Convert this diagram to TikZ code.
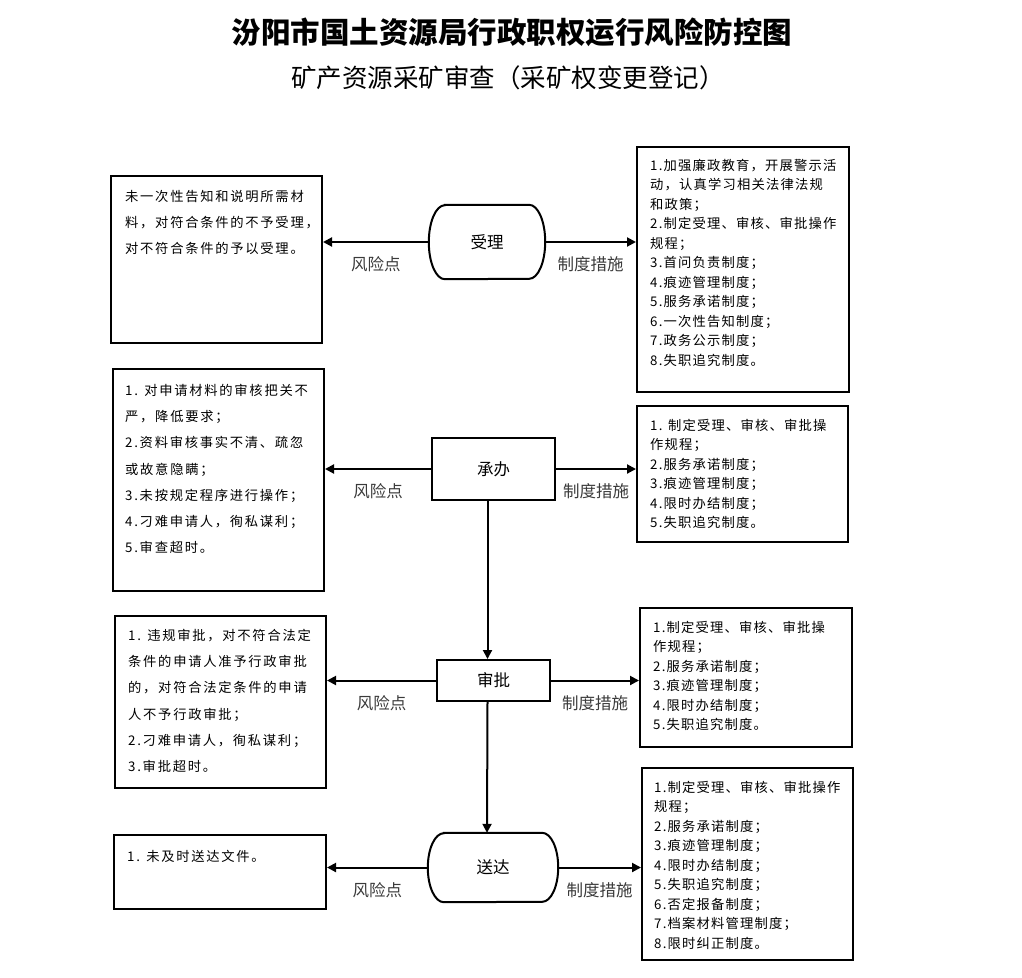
\documentclass[tikz,border=0pt]{standalone}
\usepackage{fontspec}
\usetikzlibrary{arrows.meta,positioning}
\newfontfamily\cjk{Noto Sans CJK SC}
\newfontfamily\cjkwide{Noto Sans CJK SC}[LetterSpace=13]
\newfontfamily\cjkmid{Noto Sans CJK SC}[LetterSpace=9]
\definecolor{inkline}{HTML}{000000}
\definecolor{lblgray}{HTML}{3A3A3A}
\tikzset{
  box/.style={rectangle, draw=inkline, line width=2pt, inner sep=0pt},
  stepbox/.style={box, font=\cjk\fontsize{16.5}{20}\selectfont},
  termbox/.style={rectangle, inner sep=0pt, font=\cjk\fontsize{16.5}{20}\selectfont},
  termline/.style={draw=inkline, line width=2pt},
  flow/.style={-{Triangle[length=9pt,width=9pt]}, draw=inkline, line width=2pt},
  risktxt/.style={font=\cjkwide\fontsize{13.3}{26.2}\selectfont, align=left, anchor=north west, inner sep=0pt},
  ruletxt/.style={font=\cjkmid\fontsize{13.3}{19.5}\selectfont, align=left, anchor=north west, inner sep=0pt},
  lbl/.style={font=\cjk\fontsize{16.5}{20}\selectfont, text=lblgray, inner sep=0pt},
  ttl/.style={font=\cjk\bfseries\fontsize{29.5}{34}\selectfont, inner sep=0pt},
  subttl/.style={font=\cjk\fontsize{25.5}{30}\selectfont, inner sep=0pt},
}
\begin{document}
\begin{tikzpicture}[x=1pt,y=-1pt]
  \useasboundingbox (0,0) rectangle (1022,977);
  \node[ttl] (title) at (512,32) {汾阳市国土资源局行政职权运行风险防控图};
  \node[subttl] (subtitle) at (508,78) {矿产资源采矿审查（采矿权变更登记）};
  % process steps
  \node[termbox, minimum width=116pt, minimum height=74pt] (sl) at (487,242) {受理};
  \node[stepbox, minimum width=123pt, minimum height=62pt] (cb) at (493.5,469) {承办};
  \node[stepbox, minimum width=113pt, minimum height=41pt] (sp) at (493.5,680.5) {审批};
  \node[termbox, minimum width=130pt, minimum height=69pt] (sd) at (493,867.5) {送达};
  \foreach \n/\r in {sl/37,sd/34.5}{
    \draw[termline] ([xshift=16pt]\n.north west) -- ([xshift=-16pt]\n.north east)
      arc[start angle=90, end angle=-90, x radius=16pt, y radius=\r pt]
      -- ([xshift=16pt]\n.south west)
      arc[start angle=270, end angle=90, x radius=16pt, y radius=\r pt] -- cycle;
  }
  % risk boxes
  \node[box, minimum width=211pt, minimum height=167pt] (rk1) at (216.5,259.5) {};
  \node[box, minimum width=211pt, minimum height=222pt] (rk2) at (218.5,480) {};
  \node[box, minimum width=211pt, minimum height=172pt] (rk3) at (220.5,702) {};
  \node[box, minimum width=212pt, minimum height=74pt] (rk4) at (220,872) {};
  \node[risktxt] (rk1t) at (125,190) {未一次性告知和说明所需材\\料，对符合条件的不予受理，\\对不符合条件的予以受理。};
  \node[risktxt] (rk2t) at (125,384) {1. 对申请材料的审核把关不\\严，降低要求；\\2.资料审核事实不清、疏忽\\或故意隐瞒；\\3.未按规定程序进行操作；\\4.刁难申请人，徇私谋利；\\5.审查超时。};
  \node[risktxt] (rk3t) at (128,629) {1. 违规审批，对不符合法定\\条件的申请人准予行政审批\\的，对符合法定条件的申请\\人不予行政审批；\\2.刁难申请人，徇私谋利；\\3.审批超时。};
  \node[risktxt] (rk4t) at (127,850) {1. 未及时送达文件。};
  % control boxes
  \node[box, minimum width=212pt, minimum height=245pt] (cs1) at (743,269.5) {};
  \node[box, minimum width=211pt, minimum height=136pt] (cs2) at (742.5,474) {};
  \node[box, minimum width=212pt, minimum height=139pt] (cs3) at (746,677.5) {};
  \node[box, minimum width=211pt, minimum height=192pt] (cs4) at (747.5,864) {};
  \node[ruletxt] (cs1t) at (650,159) {1.加强廉政教育，开展警示活\\动，认真学习相关法律法规\\和政策；\\2.制定受理、审核、审批操作\\规程；\\3.首问负责制度；\\4.痕迹管理制度；\\5.服务承诺制度；\\6.一次性告知制度；\\7.政务公示制度；\\8.失职追究制度。};
  \node[ruletxt] (cs2t) at (650,419) {1. 制定受理、审核、审批操\\作规程；\\2.服务承诺制度；\\3.痕迹管理制度；\\4.限时办结制度；\\5.失职追究制度。};
  \node[ruletxt] (cs3t) at (653,621) {1.制定受理、审核、审批操\\作规程；\\2.服务承诺制度；\\3.痕迹管理制度；\\4.限时办结制度；\\5.失职追究制度。};
  \node[ruletxt] (cs4t) at (654,781) {1.制定受理、审核、审批操作\\规程；\\2.服务承诺制度；\\3.痕迹管理制度；\\4.限时办结制度；\\5.失职追究制度；\\6.否定报备制度；\\7.档案材料管理制度；\\8.限时纠正制度。};
  % main flow
  \draw[flow] ([xshift=-6pt]cb.south) -- ([xshift=-6pt]sp.north);
  \draw[flow] ([xshift=-6pt]sp.south) -- ([xshift=-6pt]sd.north);
  % risks and controls
  \draw[flow] (sl.west) -- (sl.west -| rk1.east) node[lbl, midway, below=14pt] (f1) {风险点};
  \draw[flow] (sl.east) -- (sl.east -| cs1.west) node[lbl, midway, below=14pt] (z1) {制度措施};
  \draw[flow] (cb.west) -- (cb.west -| rk2.east) node[lbl, midway, below=14pt] (f2) {风险点};
  \draw[flow] (cb.east) -- (cb.east -| cs2.west) node[lbl, midway, below=14pt] (z2) {制度措施};
  \draw[flow] (sp.west) -- (sp.west -| rk3.east) node[lbl, midway, below=14pt] (f3) {风险点};
  \draw[flow] (sp.east) -- (sp.east -| cs3.west) node[lbl, midway, below=14pt] (z3) {制度措施};
  \draw[flow] (sd.west) -- (sd.west -| rk4.east) node[lbl, midway, below=14pt] (f4) {风险点};
  \draw[flow] (sd.east) -- (sd.east -| cs4.west) node[lbl, midway, below=14pt] (z4) {制度措施};
\end{tikzpicture}
\end{document}
